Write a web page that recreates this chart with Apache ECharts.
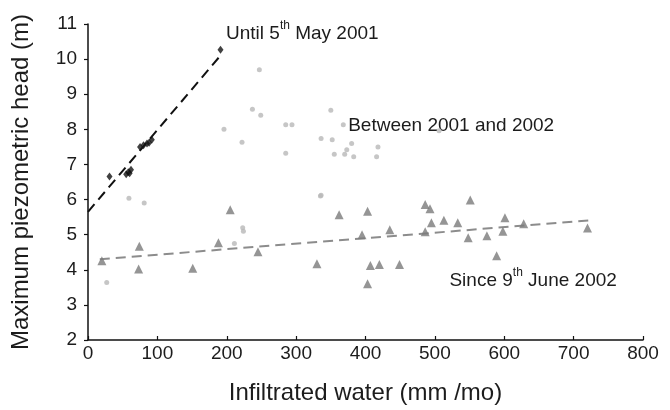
<!DOCTYPE html>
<html><head><meta charset="utf-8">
<script src="https://cdn.jsdelivr.net/npm/echarts@6/dist/echarts.min.js"></script>
<style>html,body{margin:0;padding:0;background:#fff}#c{width:670px;height:410px}</style>
</head><body><div id="c"></div>
<script>
// Until 5th May 2001 (black diamonds)
const untilX = [31, 55, 58, 60, 62, 75, 80, 85, 88, 92, 191];
const untilY = [6.66, 6.72, 6.78, 6.75, 6.85, 7.5, 7.55, 7.6, 7.62, 7.7, 10.27];
// Between 2001 and 2002 (light grey circles)
const betweenX = [27, 59, 81, 196, 211, 222, 223, 224, 237, 247, 249, 285, 285, 294, 336, 335, 336, 350, 352, 355, 368, 370, 373, 380, 383, 416, 418, 506];
const betweenY = [3.64, 6.04, 5.9, 8.0, 4.75, 7.63, 5.2, 5.1, 8.57, 9.7, 8.4, 8.13, 7.32, 8.13, 7.74, 6.1, 6.12, 8.54, 7.7, 7.29, 8.13, 7.29, 7.42, 7.6, 7.22, 7.22, 7.5, 7.96];
// Since 9th June 2002 (grey triangles)
const sinceX = [20, 73, 74, 151, 188, 205, 245, 330, 362, 395, 403, 403, 407, 420, 435, 449, 486, 486, 493, 495, 513, 533, 548, 551, 575, 589, 598, 601, 628, 720];
const sinceY = [4.26, 4.02, 4.67, 4.04, 4.77, 5.71, 4.51, 4.17, 5.57, 5.0, 5.67, 3.6, 4.12, 4.15, 5.14, 4.15, 5.08, 5.86, 5.74, 5.34, 5.41, 5.34, 4.91, 5.99, 4.97, 4.4, 5.1, 5.48, 5.31, 5.19];
// trend lines (endpoints)
const trendUntilX = [0, 190];
const trendUntilY = [5.65, 10.08];
const trendSinceX = [17, 725];
const trendSinceY = [4.3, 5.41];
// annotations [x, y] in data units
const labelUntil = [199, 10.78];
const labelBetween = [375, 8.18];
const labelSince = [521, 3.76];

const zip = (a, b) => a.map((v, i) => [v, b[i]]);
const txt = '#1c1c1c';
const font = '"Liberation Sans", Arial, Helvetica, sans-serif';

const chart = echarts.init(document.getElementById('c'), null, {renderer: 'canvas'});
chart.setOption({
  animation: false,
  backgroundColor: '#fff',
  grid: {left: 88, right: 27, top: 24, bottom: 68, containLabel: false},
  xAxis: {
    type: 'value', min: 0, max: 800, interval: 100,
    name: 'Infiltrated water (mm /mo)', nameLocation: 'middle', nameGap: 41,
    nameTextStyle: {fontSize: 24, color: txt, fontFamily: font},
    axisLine: {lineStyle: {color: '#111', width: 1.5}},
    axisTick: {show: true, inside: true, length: 4, lineStyle: {color: '#111', width: 1.2}},
    axisLabel: {fontSize: 19, color: txt, fontFamily: font, margin: 4},
    splitLine: {show: false}
  },
  yAxis: {
    type: 'value', min: 2, max: 11, interval: 1,
    name: 'Maximum piezometric head (m)', nameLocation: 'middle', nameGap: 55,
    nameTextStyle: {fontSize: 24, color: txt, fontFamily: font},
    axisLine: {show: true, lineStyle: {color: '#111', width: 1.5}},
    axisTick: {show: true, inside: false, length: 4, lineStyle: {color: '#111', width: 1.2}},
    axisLabel: {fontSize: 19, color: txt, fontFamily: font, margin: 11},
    splitLine: {show: false}
  },
  series: [
    {type: 'line', data: zip(trendUntilX, trendUntilY), symbol: 'none', silent: true,
     lineStyle: {color: '#111', width: 2, type: [10, 6]}, z: 1},
    {type: 'line', data: zip(trendSinceX, trendSinceY), symbol: 'none', silent: true,
     lineStyle: {color: '#8c8c8c', width: 2, type: [10, 6]}, z: 1},
    {type: 'scatter', data: zip(betweenX, betweenY), symbol: 'circle', symbolSize: 5,
     itemStyle: {color: '#b8b8b8'}, z: 2},
    {type: 'scatter', data: zip(sinceX, sinceY), symbol: 'triangle', symbolSize: 9,
     itemStyle: {color: '#7a7a7a'}, z: 3},
    {type: 'scatter', data: zip(untilX, untilY), symbol: 'diamond', symbolSize: [6, 8],
     itemStyle: {color: '#111'}, z: 4}
  ]
});

function richLabel(pos, parts) {
  const p = chart.convertToPixel({gridIndex: 0}, pos);
  return {
    type: 'text', x: p[0], y: p[1],
    style: {
      text: parts, verticalAlign: 'middle',
      fill: txt, fontSize: 19, fontFamily: font,
      rich: {
        a: {fontSize: 19, fontFamily: font, color: txt, lineHeight: 24, verticalAlign: 'bottom'},
        s: {fontSize: 12, fontFamily: font, color: txt, lineHeight: 24, verticalAlign: 'top'}
      }
    }
  };
}
chart.setOption({
  graphic: [
    richLabel(labelUntil, '{a|Until 5}{s|th}{a| May 2001}'),
    richLabel(labelBetween, '{a|Between 2001 and 2002}'),
    richLabel(labelSince, '{a|Since 9}{s|th}{a| June 2002}')
  ]
});
</script></body></html>
